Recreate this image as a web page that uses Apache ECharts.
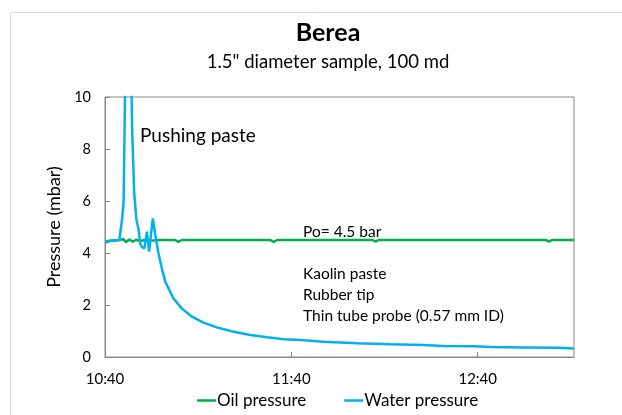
<!DOCTYPE html>
<html>
<head>
<meta charset="utf-8">
<script src="https://cdn.jsdelivr.net/npm/echarts@6/dist/echarts.min.js"></script>
<style>
  html, body { margin: 0; padding: 0; background: #fff; }
  #chart { width: 622px; height: 415px; }
</style>
</head>
<body>
<div id="chart"></div>
<script>
// time in minutes after 10:40
const startMinutes = 10 * 60 + 40;
const xTicks = [0, 60, 120];

const waterTime = [0.3, 1.6, 3.2, 4.6, 5.6, 6.0, 7.3, 8.8, 9.4, 10.1, 10.8, 11.3, 11.8, 12.7, 13.5, 14.2, 15.4, 16.1, 17.2, 18.3, 19.4,
  22.0, 24.7, 28.0, 31.7, 36.0, 41.4, 46.8, 52.2, 57.5, 62.9, 70.3, 81.3, 91.9, 102.6, 109.0, 118.7, 124.2, 134.8, 145.8, 151];
const waterPressure = [4.40, 4.47, 4.47, 4.5, 5.4, 6.0, 18, 8.5, 6.3, 5.3, 4.9, 4.38, 4.24, 4.18, 4.82, 4.05, 5.33, 4.76, 4.0, 3.4, 2.9,
  2.26, 1.87, 1.55, 1.32, 1.14, 0.97, 0.85, 0.76, 0.68, 0.65, 0.59, 0.53, 0.49, 0.46, 0.42, 0.41, 0.38, 0.37, 0.36, 0.33];

const oilTime = [0.3, 2.3, 4.5, 5.9, 6.8, 7.8, 8.9, 10.0, 11.3, 12.9, 14.5, 17.7, 22.6, 23.6, 24.8, 53.2, 54.3, 55.5,
  86.1, 87.1, 88.1, 141.9, 143.0, 143.9, 151];
const oilPressure = [4.45, 4.48, 4.5, 4.53, 4.42, 4.52, 4.44, 4.51, 4.46, 4.5, 4.47, 4.5, 4.5, 4.43, 4.5, 4.5, 4.43, 4.5,
  4.5, 4.44, 4.5, 4.5, 4.44, 4.5, 4.5];

const notes = ['Kaolin paste', 'Rubber tip', 'Thin tube probe (0.57 mm ID)'];

const font = 'Lato';
const chart = echarts.init(document.getElementById('chart'));

function fmtTime(v) {
  const t = startMinutes + v;
  const h = Math.floor(t / 60);
  const m = t % 60;
  return h + ':' + (m < 10 ? '0' + m : m);
}

chart.setOption({
  animation: false,
  textStyle: { fontFamily: font },
  title: {
    text: 'Berea',
    subtext: '1.5" diameter sample, 100 md',
    left: 323,
    textAlign: 'center',
    top: 15,
    itemGap: 8,
    textStyle: { fontFamily: font, fontSize: 25, fontWeight: 'bold', color: '#000' },
    subtextStyle: { fontFamily: font, fontSize: 18.5, color: '#000' }
  },
  legend: {
    bottom: 1,
    left: 192,
    icon: 'rect',
    itemWidth: 19,
    itemHeight: 2.5,
    itemGap: 38,
    textStyle: { fontFamily: font, fontSize: 17, color: '#000', padding: [0, 0, 0, -4] },
    data: ['Oil pressure', 'Water pressure']
  },
  grid: {
    left: 105, right: 48, top: 97, bottom: 58,
    show: true, borderColor: '#888', borderWidth: 1
  },
  xAxis: {
    type: 'value',
    min: 0,
    max: 151,
    interval: 60,
    axisLine: { lineStyle: { color: '#888' } },
    axisTick: { inside: true, length: 5, lineStyle: { color: '#888' } },
    axisLabel: {
      fontSize: 15, color: '#000', margin: 15,
      formatter: function (v) { return xTicks.indexOf(v) >= 0 ? fmtTime(v) : ''; },
      showMaxLabel: false
    },
    splitLine: { show: false }
  },
  yAxis: {
    type: 'value',
    min: 0,
    max: 10,
    interval: 2,
    name: 'Pressure (mbar)',
    nameLocation: 'middle',
    nameGap: 42,
    nameTextStyle: { fontFamily: font, fontSize: 18, color: '#000' },
    axisLine: { show: true, lineStyle: { color: '#888' } },
    axisTick: { show: true, inside: true, length: 5, lineStyle: { color: '#888' } },
    axisLabel: { fontSize: 14.5, color: '#000', margin: 14 },
    splitLine: { show: false }
  },
  graphic: [
    {
      type: 'rect', silent: true, z: -1,
      shape: { x: 10.5, y: 12.5, width: 700, height: 500 },
      style: { fill: 'none', stroke: '#d9d9d9', lineWidth: 1 }
    },
    {
      type: 'text', left: 140, top: 126,
      style: { text: 'Pushing paste', font: '19px ' + font, fill: '#000' }
    },
    {
      type: 'text', left: 303, top: 224,
      style: { text: 'Po= 4.5 bar', font: '15.5px ' + font, fill: '#000' }
    },
    {
      type: 'text', left: 303, top: 263,
      style: { text: notes.join('\n'), font: '15.5px ' + font, fill: '#000', lineHeight: 21.3 }
    }
  ],
  series: [
    {
      name: 'Oil pressure',
      type: 'line',
      symbol: 'none',
      clip: true,
      color: '#00B050',
      lineStyle: { width: 2.5, color: '#00B050' },
      data: oilTime.map((t, i) => [t, oilPressure[i]])
    },
    {
      name: 'Water pressure',
      type: 'line',
      symbol: 'none',
      clip: true,
      color: '#00B0F0',
      lineStyle: { width: 2.5, color: '#00B0F0' },
      data: waterTime.map((t, i) => [t, waterPressure[i]])
    }
  ]
});
</script>
</body>
</html>
